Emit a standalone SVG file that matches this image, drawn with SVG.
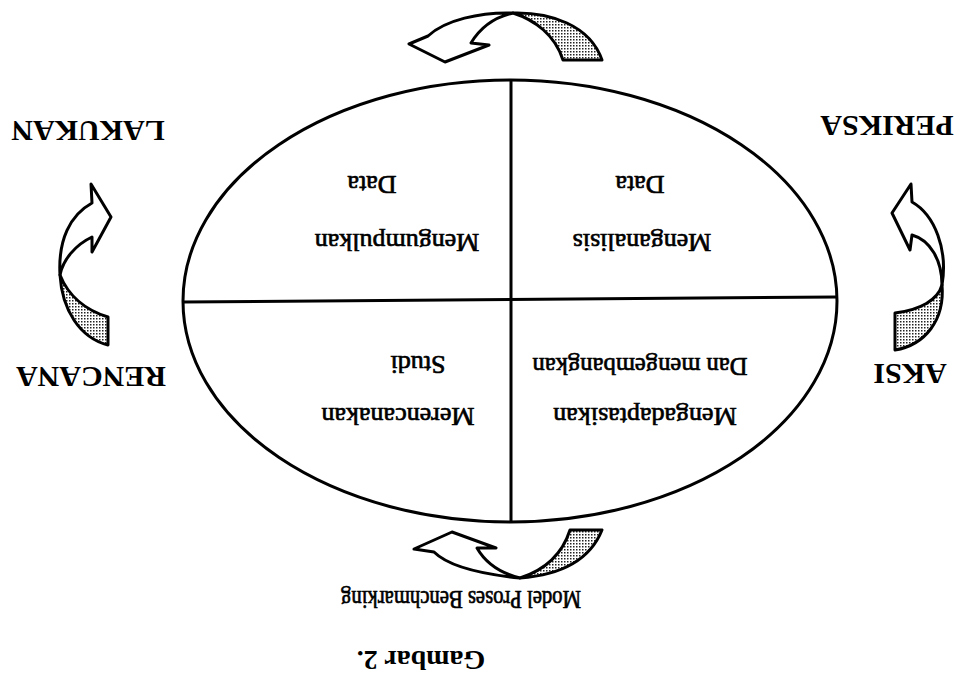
<svg xmlns="http://www.w3.org/2000/svg" width="965" height="699" viewBox="0 0 965 699">
<defs>
<pattern id="dots" width="3" height="3" patternUnits="userSpaceOnUse">
<rect width="3" height="3" fill="#fff"/>
<rect x="0" y="0" width="1.5" height="1.5" fill="#222"/>
</pattern>
<style>
.lbl{font-family:"Liberation Serif","Times New Roman",serif;font-weight:bold;font-size:30px;fill:#000;text-anchor:middle}
.in{font-family:"Liberation Serif","Times New Roman",serif;font-size:26px;fill:#000;stroke:#000;stroke-width:0.7;text-anchor:middle}
.cap{font-family:"Liberation Serif","Times New Roman",serif;font-size:25px;fill:#000;stroke:#000;stroke-width:0.7;text-anchor:middle}
.ln{fill:none;stroke:#000;stroke-width:3}
.aw{fill:#fff;stroke:#000;stroke-width:3;stroke-linejoin:round}
.as{fill:url(#dots);stroke:#000;stroke-width:3;stroke-linejoin:round}
</style>
</defs>
<rect width="965" height="699" fill="#fff"/>
<g id="cycle">
<ellipse class="ln" cx="510" cy="301" rx="327" ry="221"/>
<line class="ln" x1="511" y1="80" x2="511" y2="522"/>
<line class="ln" x1="183" y1="302" x2="837" y2="297"/>
</g>
<g id="q-mengumpulkan">
<text class="in" x="397" y="234" transform="rotate(180 397 234)">Mengumpulkan</text>
<text class="in" x="372" y="176" transform="rotate(180 372 176)">Data</text>
</g>
<g id="q-menganalisis">
<text class="in" x="642" y="234" transform="rotate(180 642 234)">Menganalisis</text>
<text class="in" x="640" y="176" transform="rotate(180 640 176)">Data</text>
</g>
<g id="q-merencanakan">
<text class="in" x="398" y="408" transform="rotate(180 398 408)">Merencanakan</text>
<text class="in" x="418" y="356" transform="rotate(180 418 356)">Studi</text>
</g>
<g id="q-mengadaptasikan">
<text class="in" x="645" y="408" transform="rotate(180 645 408)">Mengadaptasikan</text>
<text class="in" x="640" y="358" transform="rotate(180 640 358)" textLength="215" lengthAdjust="spacingAndGlyphs">Dan mengembangkan</text>
</g>
<g id="lakukan"><text class="lbl" x="88" y="121" transform="rotate(180 88 121)">LAKUKAN</text></g>
<g id="periksa"><text class="lbl" x="887" y="116" transform="rotate(180 887 116)">PERIKSA</text></g>
<g id="rencana"><text class="lbl" x="91" y="367" transform="rotate(180 91 367)">RENCANA</text></g>
<g id="aksi"><text class="lbl" x="910" y="364" transform="rotate(180 910 364)">AKSI</text></g>
<g id="caption">
<text class="cap" x="461" y="591" transform="rotate(180 461 591)" textLength="240" lengthAdjust="spacingAndGlyphs">Model Proses Benchmarking</text>
<text class="lbl" x="421" y="651" transform="rotate(180 421 651)" style="font-size:28px">Gambar 2.</text>
</g>
<g id="connectors">
<path class="aw" d="M513 13 C480 12,445 20,428 36 L409 44 L445 62 L489 45 L471 43 C480 28,495 17,513 13 Z"/>
<path class="as" d="M513 13 C550 12,590 25,602 60 L563 60 C555 35,535 20,513 13 Z"/>
<path class="aw" d="M520 578 C490 575,450 568,434 552 L414 549 L452 532 L496 548 L477 548 C485 562,500 573,520 578 Z"/>
<path class="as" d="M520 578 C560 575,590 560,602 530 L570 530 C562 555,545 570,520 578 Z"/>
<path class="aw" d="M60 275 C58 240,70 215,92 203 L91 184 L111 217 L92 252 L92 237 C75 245,63 260,60 275 Z"/>
<path class="as" d="M60 275 C62 310,80 338,108 345 L108 317 C85 310,68 295,60 275 Z"/>
<path class="aw" d="M942 285 C948 250,935 215,912 202 L911 184 L892 213 L910 250 L912 235 C930 240,942 260,942 285 Z"/>
<path class="as" d="M942 285 C945 320,925 345,895 350 L895 313 C920 310,938 300,942 285 Z"/>
</g>
</svg>
